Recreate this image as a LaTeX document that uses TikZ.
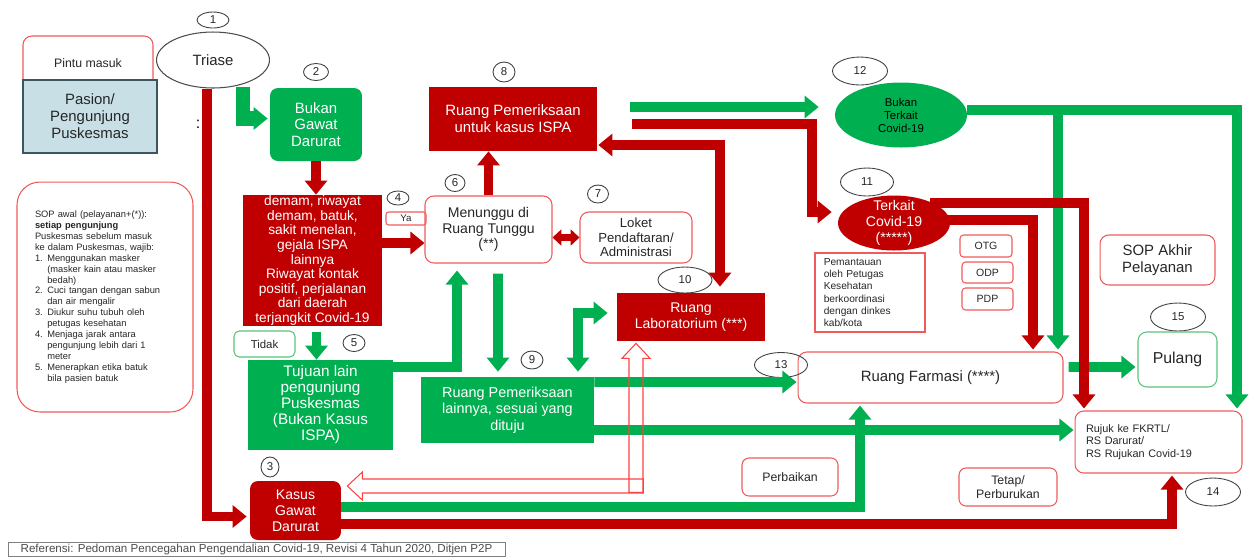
\documentclass[tikz,border=0pt]{standalone}
\usepackage{fontspec}
\setmainfont{Liberation Sans}
\usetikzlibrary{arrows.meta,shapes.geometric,calc}
\definecolor{cg}{RGB}{0,176,80}
\definecolor{cr}{RGB}{192,0,0}
\definecolor{br}{RGB}{240,90,90}
\definecolor{bluefill}{RGB}{200,223,230}
\definecolor{blueline}{RGB}{60,85,95}
\definecolor{lg}{RGB}{90,195,125}
\newcommand\fsz[2]{\fontsize{#1}{#2}\selectfont}
\tikzset{
 wh/.style 2 args={minimum width=#1cm,minimum height=#2cm},
 num/.style={ellipse,draw=black!75,line width=0.5pt,inner sep=0pt,text=black!85,font=\fsz{6.5}{7}},
 rbox/.style={draw=br,line width=0.6pt,inner sep=0pt,align=center,text=black!85},
 fillr/.style={fill=cr,text=white,inner sep=0pt,align=center},
 fillg/.style={fill=cg,text=white,inner sep=0pt,align=center},
 ga/.style={draw=cg,line width=5.6pt,-{Triangle[length=8pt,width=12.5pt]}},
 ra/.style={draw=cr,line width=5.6pt,-{Triangle[length=8pt,width=12.5pt]}},
 gab/.style={draw=cg,line width=5.6pt,{Triangle[length=8pt,width=12.5pt]}-{Triangle[length=8pt,width=12.5pt]}},
 rab/.style={draw=cr,line width=5.6pt,{Triangle[length=8pt,width=12.5pt]}-{Triangle[length=8pt,width=12.5pt]}},
 rabs/.style={draw=cr,line width=3.6pt,{Triangle[length=5pt,width=9pt]}-{Triangle[length=5pt,width=9pt]}},
 hollow/.style={draw=red!75,line width=0.6pt},
}
\begin{document}
\begin{tikzpicture}[x=0.02cm,y=-0.02cm]
\useasboundingbox (0,0) rectangle (1250,556);

% ---------- nodes ----------
\node[rbox,rounded corners=5pt,wh={2.6}{1.08},font=\fsz{7}{8}] (pintu) at (88,63) {Pintu masuk};
\node[draw=blueline,fill=bluefill,line width=1pt,wh={2.68}{1.46},inner sep=0pt,align=center,text=black!85,font=\fsz{8.5}{9.6}] (pasion) at (90,116.5) {Pasion/\\Pengunjung\\Puskesmas};

\node[num,wh={0.64}{0.32}] (n1) at (213,20) {1};
\node[ellipse,draw=black!70,line width=0.6pt,wh={2.26}{1.12},inner sep=0pt,text=black!85,font=\fsz{8.5}{10}] (triase) at (213,60) {Triase};
\node[inner sep=0pt,font=\fsz{9}{10}] (colon) at (198,124) {:};

\node[num,wh={0.5}{0.34}] (n2) at (316,72) {2};
\node[fillg,rounded corners=4.5pt,wh={1.84}{1.46},font=\fsz{8.5}{9.3}] (bgd) at (316,124.5) {Bukan\\Gawat\\Darurat};

\node[fillr,wh={2.78}{2.62},font=\fsz{7.8}{8.3}] (redbox) at (312.5,260.5) {demam, riwayat\\demam, batuk,\\sakit menelan,\\gejala ISPA\\lainnya\\Riwayat kontak\\positif, perjalanan\\dari daerah\\terjangkit Covid-19};

\node[num,wh={0.44}{0.28}] (n4) at (398,198) {4};
\node[rbox,rounded corners=1.5pt,wh={0.8}{0.26},font=\fsz{5.5}{6}] (ya) at (406,218.5) {Ya};

\node[num,wh={0.4}{0.34}] (n6) at (455,183) {6};
\node[rbox,rounded corners=5pt,wh={2.54}{1.34},font=\fsz{8}{9}] (menunggu) at (488.5,229.5) {Menunggu di\\Ruang Tunggu\\(**)};

\node[num,wh={0.44}{0.4}] (n8) at (504,72) {8};
\node[fillr,wh={3.36}{1.28},font=\fsz{8.5}{9.8}] (ispa) at (513,119) {Ruang Pemeriksaan\\untuk kasus ISPA};

\node[num,wh={0.42}{0.36}] (n7) at (598,194) {7};
\node[rbox,rounded corners=5pt,wh={2.24}{1.02},font=\fsz{7.5}{8.3}] (loket) at (636,237.5) {Loket\\Pendaftaran/\\Administrasi};

\node[num,wh={1.1}{0.56}] (n12) at (860,71) {12};
\node[ellipse,fill=cg,wh={2.64}{1.3},inner sep=0pt,label={[align=center,font=\fsz{6.5}{7.4},text=black]center:{Bukan\\Terkait\\Covid-19}}] (bukant) at (901,115) {};

\node[num,wh={1.06}{0.56}] (n11) at (867,182) {11};
\node[ellipse,fill=cr,wh={2.24}{1.1},inner sep=0pt,label={[align=center,font=\fsz{8}{9},text=white]center:{Terkait\\Covid-19\\(*****)}}] (terkait) at (894,223) {};

\node[draw=br,line width=0.6pt,wh={2.2}{1.58},inner sep=0pt,text width=1.85cm,align=left,text=black!85,font=\fsz{5.8}{6.9}] (pemantauan) at (870,292.5) {Pemantauan\\oleh Petugas\\Kesehatan\\berkoordinasi\\dengan dinkes\\kab/kota};

\node[rbox,rounded corners=2pt,wh={1.04}{0.44},font=\fsz{6}{7}] (otg) at (986,246) {OTG};
\node[rbox,rounded corners=2pt,wh={1.02}{0.42},font=\fsz{6}{7}] (odp) at (987.5,272.5) {ODP};
\node[rbox,rounded corners=2pt,wh={1.02}{0.44},font=\fsz{6}{7}] (pdp) at (987.5,299) {PDP};

\node[rbox,rounded corners=5pt,wh={2.3}{1.0},font=\fsz{8.5}{9.6}] (sopakhir) at (1157.5,260) {SOP Akhir\\Pelayanan};
\node[num,wh={1.1}{0.56}] (n15) at (1178,317) {15};
\node[draw=lg,line width=0.6pt,rounded corners=5pt,wh={1.58}{1.1},inner sep=0pt,text=black!85,font=\fsz{9}{10}] (pulang) at (1177.5,359.5) {Pulang};

\node[rbox,rounded corners=5pt,wh={5.3}{1.02},font=\fsz{8.5}{9.5}] (farmasi) at (930.5,377.5) {Ruang Farmasi (****)};
\node[num,wh={1.06}{0.5}] (n13) at (781,365) {13};

\node[rbox,rounded corners=5pt,wh={3.34}{1.24},text width=2.9cm,align=left,font=\fsz{6.2}{7.2}] (rujuk) at (1158.5,442) {Rujuk ke FKRTL/\\RS Darurat/\\RS Rujukan Covid-19};
\node[num,wh={1.1}{0.56}] (n14) at (1213,492) {14};

\node[num,wh={1.08}{0.52}] (n10) at (685,280) {10};
\node[fillr,wh={2.96}{0.96},font=\fsz{8}{9.4}] (lab) at (691,317) {Ruang\\Laboratorium (***)};

\node[num,wh={0.44}{0.36}] (n9) at (532,360) {9};
\node[fillg,wh={3.46}{1.32},font=\fsz{8.2}{9.4}] (lainnya) at (507.5,410) {Ruang Pemeriksaan\\lainnya, sesuai yang\\dituju};

\node[fillg,wh={2.9}{1.8},font=\fsz{8.7}{9.1}] (tujuan) at (320.5,405) {Tujuan lain\\pengunjung\\Puskesmas\\(Bukan Kasus\\ISPA)};
\node[draw=lg,line width=0.6pt,rounded corners=3pt,wh={1.22}{0.52},inner sep=0pt,text=black!85,font=\fsz{6.5}{7}] (tidak) at (264.5,344) {Tidak};
\node[num,wh={0.44}{0.34}] (n5) at (354,343) {5};

\node[fillr,rounded corners=4.5pt,wh={1.82}{1.18},font=\fsz{8}{9}] (kasus) at (295.5,510.5) {Kasus\\Gawat\\Darurat};
\node[num,wh={0.36}{0.4}] (n3) at (270,467) {3};

\node[rbox,rounded corners=4pt,wh={1.92}{0.76},font=\fsz{7}{8}] (perbaikan) at (790,477) {Perbaikan};
\node[rbox,rounded corners=4pt,wh={1.96}{0.76},font=\fsz{7}{8}] (tetap) at (1008,487) {Tetap/\\Perburukan};

\node[rbox,rounded corners=13pt,wh={3.52}{4.6},text width=2.8cm,align=left,font=\fsz{5.3}{6.2}] (sopawal) at (105,297) {SOP awal (pelayanan+(*)):\\
\textbf{setiap pengunjung}\\
Puskesmas sebelum masuk\\
ke dalam Puskesmas, wajib:\\
\makebox[7pt][l]{1.}Menggunakan masker\\
\hspace*{7pt}(masker kain atau masker\\
\hspace*{7pt}bedah)\\
\makebox[7pt][l]{2.}Cuci tangan dengan sabun\\
\hspace*{7pt}dan air mengalir\\
\makebox[7pt][l]{3.}Diukur suhu tubuh oleh\\
\hspace*{7pt}petugas kesehatan\\
\makebox[7pt][l]{4.}Menjaga jarak antara\\
\hspace*{7pt}pengunjung lebih dari 1\\
\hspace*{7pt}meter\\
\makebox[7pt][l]{5.}Menerapkan etika batuk\\
\hspace*{7pt}bila pasien batuk};

\node[draw=black!50,line width=0.5pt,wh={9.94}{0.28},inner sep=0pt,text=black!70,font=\fsz{6.6}{7}] (foot) at (256.5,549) {Referensi: Pedoman Pencegahan Pengendalian Covid-19, Revisi 4 Tahun 2020, Ditjen P2P};

% ---------- helper coordinates ----------
\coordinate (mw) at ($(menunggu.west)+(0,13.5)$);
\coordinate (rt) at ($(redbox.south)+(4,6)$);
\coordinate (g1) at ($(ispa.east)+(33,-12)$);
\coordinate (g1e) at ($(bukant.west)+(-16,-8)$);
\coordinate (r1) at ($(ispa.east)+(35,5)$);
\coordinate (r1e) at ($(terkait.west)+(-6,-11)$);
\coordinate (l1) at ($(lab.north)+(29,-6)$);
\coordinate (ht) at ($(lab.south)+(-55,2)$);
\coordinate (hl) at ($(kasus.east)+(6,-24.5)$);

% ---------- green connectors ----------
\draw[ga,line width=8pt] ($(triase.south)+(30,-2)$) |- ($(bgd.west)+(-2,-6)$);
\draw[ga] (rt) -- (rt |- tujuan.north);
\draw[ga] (g1) -- (g1e);
\draw[ga] ($(menunggu.south)+(9.5,10)$) -- ($(lainnya.north)+(-9.5,-5)$);
\draw[ga] ($(tujuan.east)+(0,-38)$) -| ($(menunggu.south)+(-31.5,7)$);
\draw[gab] ($(lainnya.north)+(70.5,-5)$) |- ($(lab.west)+(-9,-4)$);
\draw[ga] ($(lainnya.east)+(0,-28)$) -- ($(farmasi.west)+(-1,4.5)$);
\draw[ga] ($(lainnya.east)+(0,20)$) -- ($(rujuk.west)+(-1,-12)$);
\draw[ga] ($(kasus.east)+(0,-3.5)$) -| ($(farmasi.south)+(-70.5,2)$);
\draw[ga] ($(bukant.east)+(0,-5)$) -| ($(farmasi.north)+(127.5,-2)$);
\draw[ga] ($(bukant.east)+(0,-5)$) -| ($(rujuk.north)+(78.5,-2)$);
\draw[ga] ($(farmasi.east)+(5,-10.5)$) -- ($(pulang.west)+(-2,7.5)$);

% ---------- red connectors ----------
\draw[ra] ($(triase.south)+(-6,0)$) |- ($(kasus.west)+(-3,6)$);
\draw[ra] (bgd.south) -- (bgd.south |- redbox.north);
\draw[ra] (redbox.east |- mw) -- (mw);
\draw[ra] (menunggu.north) -- (menunggu.north |- ispa.south);
\draw[rabs] (menunggu.east |- loket.west) -- (loket.west);
\draw[ra] (r1) -| ($(r1e)+(-20,0)$) -- (r1e);
\draw[rab] (l1) |- ($(ispa.east)+(1,26)$);
\draw[ra] ($(kasus.east)+(0,13.5)$) -| ($(rujuk.south)+(13.5,2)$);
\draw[ra] ($(terkait.east)+(-3,-3)$) -| ($(farmasi.north)+(102.5,-2)$);
\draw[ra] ($(terkait.center)+(36,-20)$) -| ($(rujuk.north)+(-74.5,-2)$);

% ---------- hollow arrows (lab <-> kasus) ----------
\draw[hollow,shift={(ht)}] (0,0) -- (14,15) -- (7,15) -- (7,149) -- (-7,149) -- (-7,15) -- (-14,15) -- cycle;
\draw[hollow,shift={(hl)}] (0,0) -- (15,-14) -- (15,-7) -- (296,-7) -- (296,7) -- (15,7) -- (15,14) -- cycle;
\end{tikzpicture}
\end{document}
